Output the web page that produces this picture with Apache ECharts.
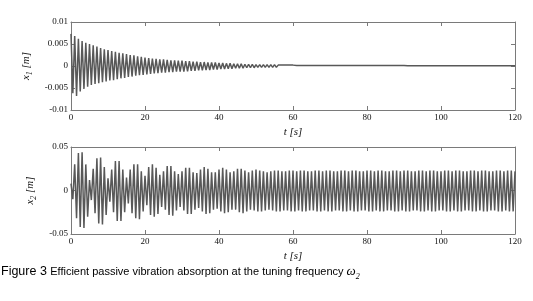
<!DOCTYPE html>
<html>
<head>
<meta charset="utf-8">
<script src="https://cdn.jsdelivr.net/npm/echarts@6/dist/echarts.min.js"></script>
<style>
  html, body { margin: 0; padding: 0; background: #fff; }
  #chart { width: 533px; height: 301px; }
</style>
</head>
<body>
<div id="chart"></div>
<script>
// time ticks (s) shared by both panels
var tTicks = [0, 20, 40, 60, 80, 100, 120]
var x1Ticks = [-0.01, -0.005, 0, 0.005, 0.01]
var x2Ticks = [-0.05, 0, 0.05]

// x1: positive / negative peak of each 1 s oscillation, t = 0..120
var x1Hi = [
  0.0073, 0.0068, 0.0062, 0.0057, 0.0053, 0.0050, 0.0047, 0.0044, 0.0041, 0.0038,
  0.0036, 0.0034, 0.0032, 0.0030, 0.0029, 0.0027, 0.0025, 0.0024, 0.0022, 0.0021,
  0.0019, 0.0018, 0.0017, 0.0016, 0.0015, 0.0015, 0.0014, 0.0013, 0.0013, 0.0012,
  0.0012, 0.0011, 0.0011, 0.0010, 0.0010, 0.0009, 0.0009, 0.0008, 0.0008, 0.0008,
  0.0007, 0.0007, 0.0006, 0.0006, 0.0005, 0.0005, 0.0005, 0.0004, 0.0004, 0.0004,
  0.0003, 0.0003, 0.0003, 0.0003, 0.0003, 0.0003, 0.0002, 0.0002, 0.0002, 0.0002,
  0.0002, 0.0001, 0.0001, 0.0001, 0.0001, 0.0001, 0.0001, 0.0001, 0.0001, 0.0001,
  0.0001, 0.0001, 0.0001, 0.0001, 0.0001, 0.0001, 0.0001, 0.0001, 0.0001, 0.0001,
  0.0001, 0.0001, 0.0001, 0.0001, 0.0001, 0.0001, 0.0001, 0.0001, 0.0001, 0.0001,
  0.0001, 0.00005, 0.00005, 0.00005, 0.00005, 0.00005, 0.00005, 0.00005, 0.00005, 0.00005,
  0.00005, 0.00005, 0.00005, 0.00005, 0.00005, 0.00005, 0.00005, 0.00005, 0.00005, 0.00005,
  0.00005, 0.00005, 0.00005, 0.00005, 0.00005, 0.00005, 0.00005, 0.00005, 0.00005, 0.00005,
  0.00005
]
var x1Lo = [
  -0.0062, -0.0068, -0.0058, -0.0052, -0.0047, -0.0043, -0.0041, -0.0039, -0.0037, -0.0035,
  -0.0033, -0.0032, -0.0030, -0.0028, -0.0027, -0.0025, -0.0024, -0.0022, -0.0021, -0.0020,
  -0.0019, -0.0018, -0.0017, -0.0016, -0.0015, -0.0015, -0.0014, -0.0014, -0.0013, -0.0013,
  -0.0013, -0.0012, -0.0011, -0.0011, -0.0010, -0.0010, -0.0009, -0.0009, -0.0008, -0.0008,
  -0.0007, -0.0007, -0.0006, -0.0006, -0.0005, -0.0005, -0.0005, -0.0004, -0.0004, -0.0004,
  -0.0003, -0.0003, -0.0003, -0.0003, -0.0003, -0.0003, -0.0002, -0.0002, -0.0002, -0.0002,
  -0.0002, -0.0001, -0.0001, -0.0001, -0.0001, -0.0001, -0.0001, -0.0001, -0.0001, -0.0001,
  -0.0001, -0.0001, -0.0001, -0.0001, -0.0001, -0.0001, -0.0001, -0.0001, -0.0001, -0.0001,
  -0.0001, -0.0001, -0.0001, -0.0001, -0.0001, -0.0001, -0.0001, -0.0001, -0.0001, -0.0001,
  -0.0001, -0.00005, -0.00005, -0.00005, -0.00005, -0.00005, -0.00005, -0.00005, -0.00005, -0.00005,
  -0.00005, -0.00005, -0.00005, -0.00005, -0.00005, -0.00005, -0.00005, -0.00005, -0.00005, -0.00005,
  -0.00005, -0.00005, -0.00005, -0.00005, -0.00005, -0.00005, -0.00005, -0.00005, -0.00005, -0.00005,
  -0.00005
]

// x2: beating at first, then steady ~0.023 amplitude
var x2Hi = [
  0.008, 0.030, 0.043, 0.044, 0.030, 0.012, 0.025, 0.037, 0.038, 0.027,
  0.014, 0.024, 0.034, 0.034, 0.024, 0.015, 0.024, 0.030, 0.030, 0.022,
  0.017, 0.027, 0.030, 0.026, 0.018, 0.022, 0.028, 0.028, 0.022, 0.019,
  0.022, 0.026, 0.026, 0.021, 0.020, 0.024, 0.027, 0.025, 0.021, 0.021,
  0.024, 0.026, 0.024, 0.021, 0.022, 0.025, 0.025, 0.023, 0.021, 0.023,
  0.024, 0.023, 0.022, 0.021, 0.022, 0.023, 0.023, 0.022, 0.022, 0.023,
  0.023, 0.022, 0.023, 0.023, 0.022, 0.022, 0.023, 0.023, 0.022, 0.023,
  0.023, 0.022, 0.022, 0.023, 0.023, 0.022, 0.023, 0.023, 0.022, 0.022,
  0.023, 0.023, 0.022, 0.023, 0.023, 0.022, 0.022, 0.023, 0.023, 0.022,
  0.023, 0.023, 0.022, 0.022, 0.023, 0.023, 0.022, 0.023, 0.023, 0.022,
  0.022, 0.023, 0.023, 0.022, 0.023, 0.023, 0.022, 0.022, 0.023, 0.023,
  0.022, 0.023, 0.023, 0.022, 0.022, 0.023, 0.023, 0.022, 0.023, 0.023,
  0.022
]
var x2Lo = [
  -0.010, -0.032, -0.042, -0.043, -0.030, -0.011, -0.026, -0.038, -0.039, -0.028,
  -0.013, -0.025, -0.035, -0.035, -0.025, -0.015, -0.026, -0.032, -0.033, -0.024,
  -0.017, -0.028, -0.030, -0.027, -0.019, -0.022, -0.028, -0.029, -0.023, -0.019,
  -0.023, -0.027, -0.027, -0.022, -0.020, -0.024, -0.027, -0.026, -0.022, -0.021,
  -0.024, -0.026, -0.025, -0.022, -0.022, -0.025, -0.026, -0.024, -0.022, -0.023,
  -0.024, -0.024, -0.023, -0.022, -0.023, -0.024, -0.024, -0.023, -0.023, -0.024,
  -0.024, -0.023, -0.024, -0.024, -0.023, -0.023, -0.024, -0.024, -0.023, -0.024,
  -0.024, -0.023, -0.023, -0.024, -0.024, -0.023, -0.024, -0.024, -0.023, -0.023,
  -0.024, -0.024, -0.023, -0.024, -0.024, -0.023, -0.023, -0.024, -0.024, -0.023,
  -0.024, -0.024, -0.023, -0.023, -0.024, -0.024, -0.023, -0.024, -0.024, -0.023,
  -0.023, -0.024, -0.024, -0.023, -0.024, -0.024, -0.023, -0.023, -0.024, -0.024,
  -0.023, -0.024, -0.024, -0.023, -0.023, -0.024, -0.024, -0.023, -0.024, -0.024,
  -0.023
]

// peak at t, trough half a second later
function zigzag(hi, lo) {
  var pts = []
  for (var i = 0; i < hi.length; i++) {
    pts.push([i, hi[i]])
    if (i < hi.length - 1) pts.push([i + 0.5, lo[i]])
  }
  return pts
}

var frame = '#7a7a7a'
var serif = 'Liberation Serif'

function tAxis(grid, pos) {
  var main = pos === 'bottom'
  return {
    gridIndex: grid, type: 'value', position: pos,
    min: tTicks[0], max: tTicks[tTicks.length - 1], interval: tTicks[1] - tTicks[0],
    axisLine: { show: true, onZero: false, lineStyle: { color: frame, width: 1 } },
    axisTick: { show: true, inside: true, length: 4, lineStyle: { color: frame } },
    axisLabel: { show: main, fontFamily: serif, fontSize: 9, color: '#111', margin: 3 },
    splitLine: { show: false },
    name: main ? 't [s]' : '', nameLocation: 'middle', nameGap: 17,
    nameTextStyle: { fontFamily: serif, fontStyle: 'italic', fontSize: 11, color: '#111' }
  }
}

function yAxis(grid, pos, ticks, sub) {
  var main = pos === 'left'
  return {
    gridIndex: grid, type: 'value', position: pos,
    min: ticks[0], max: ticks[ticks.length - 1], interval: ticks[1] - ticks[0],
    axisLine: { show: true, onZero: false, lineStyle: { color: frame, width: 1 } },
    axisTick: { show: true, inside: true, length: 4, lineStyle: { color: frame } },
    axisLabel: { show: main, fontFamily: serif, fontSize: 9, color: '#111', margin: 3 },
    splitLine: { show: false },
    name: main ? '{x|x}{s|' + sub + '}{x| [m]}' : '',
    nameLocation: 'middle', nameGap: 33, nameRotate: 90,
    nameTextStyle: {
      lineHeight: 16,
      rich: {
        x: { fontFamily: serif, fontStyle: 'italic', fontSize: 11, color: '#111', verticalAlign: 'middle' },
        s: { fontFamily: serif, fontStyle: 'italic', fontSize: 8, color: '#111', verticalAlign: 'bottom' }
      }
    }
  }
}

var chart = echarts.init(document.getElementById('chart'))
var option = {
  animation: false,
  backgroundColor: '#fff',
  grid: [
    { left: 71, top: 22, width: 444, height: 88 },
    { left: 71, top: 147, width: 444, height: 87 }
  ],
  xAxis: [tAxis(0, 'bottom'), tAxis(0, 'top'), tAxis(1, 'bottom'), tAxis(1, 'top')],
  yAxis: [
    yAxis(0, 'left', x1Ticks, '1'), yAxis(0, 'right', x1Ticks, '1'),
    yAxis(1, 'left', x2Ticks, '2'), yAxis(1, 'right', x2Ticks, '2')
  ],
  series: [
    {
      name: 'x1', type: 'line', xAxisIndex: 0, yAxisIndex: 0,
      data: zigzag(x1Hi, x1Lo), showSymbol: false, sampling: false,
      lineStyle: { color: '#585858', width: 1.5 }
    },
    {
      name: 'x2', type: 'line', xAxisIndex: 2, yAxisIndex: 2,
      data: zigzag(x2Hi, x2Lo), showSymbol: false, sampling: false,
      lineStyle: { color: '#585858', width: 1.5 }
    }
  ],
  graphic: [
    {
      type: 'text', left: 1, top: 263,
      style: {
        text: '{a|Figure 3} {b|Efficient passive vibration absorption at the tuning frequency }{w|ω}{s|2}',
        rich: {
          a: { fontFamily: 'Liberation Sans', fontSize: 12.5, color: '#111', verticalAlign: 'middle' },
          b: { fontFamily: 'Liberation Sans Narrow, Liberation Sans', fontSize: 11, color: '#111', verticalAlign: 'middle' },
          w: { fontFamily: serif, fontStyle: 'italic', fontSize: 13, color: '#111', verticalAlign: 'middle' },
          s: { fontFamily: serif, fontStyle: 'italic', fontSize: 8, color: '#111', verticalAlign: 'bottom' }
        },
        lineHeight: 18
      }
    }
  ]
}
chart.setOption(option)
</script>
</body>
</html>
